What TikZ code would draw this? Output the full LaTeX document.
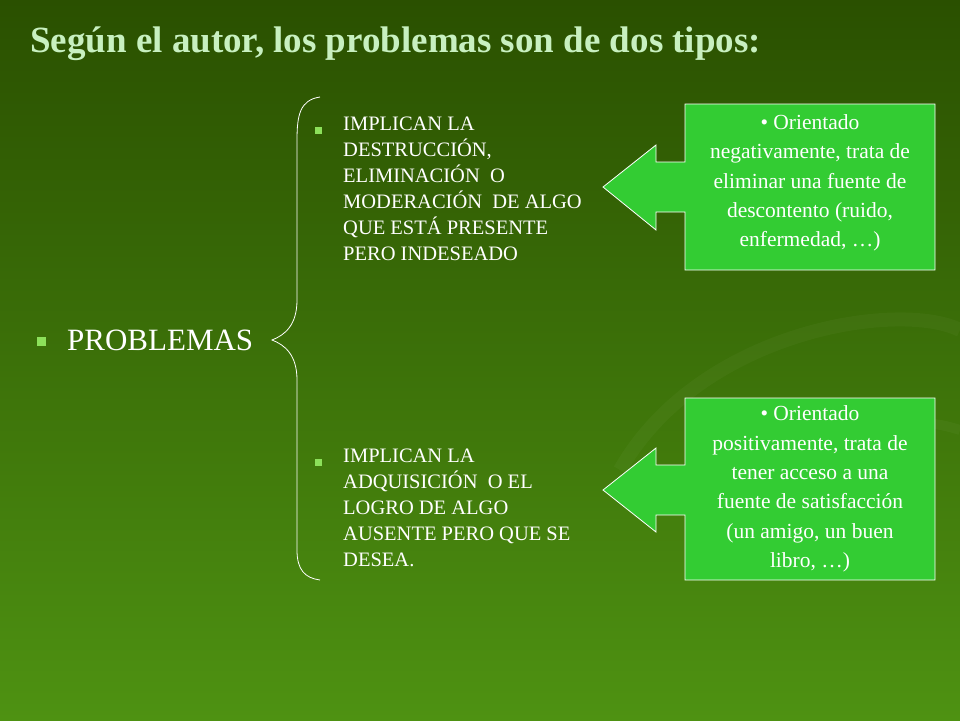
\documentclass[tikz,border=0pt]{standalone}
\usepackage{fontspec}
\setmainfont{Liberation Serif}
\begin{document}
\begin{tikzpicture}[x=1pt,y=-1pt,
  bul/.style={fill=bulgreen,minimum size=7pt,inner sep=0pt},
  call/.style={fill=callgreen,draw=white,line width=0.8pt},
  ltext/.style={anchor=north west,align=left,text=white,font=\fontsize{20.5}{26}\selectfont,inner sep=0pt},
  ctext/.style={align=center,text=white,font=\fontsize{21.5}{29.3}\selectfont,inner sep=0pt}]
\definecolor{bulgreen}{HTML}{8CE05A}
\definecolor{callgreen}{HTML}{33CC33}
\definecolor{titlegreen}{HTML}{C8F0C0}
\shade[top color={rgb,255:red,42;green,80;blue,0},bottom color={rgb,255:red,78;green,146;blue,18}] (0,0) rectangle (960,720);
\useasboundingbox (0,0) rectangle (960,720);
% faint swirl
\draw[white,opacity=0.03,line width=14pt] (620,470) .. controls (700,330) and (900,300) .. (960,330);
\draw[white,opacity=0.03,line width=10pt] (700,520) .. controls (780,420) and (900,410) .. (960,430);
\node[anchor=west,font=\bfseries\fontsize{37}{40}\selectfont,text=titlegreen,inner sep=0pt] (title) at (30,44) {Según el autor, los problemas son de dos tipos:};
% PROBLEMAS
\node[bul,minimum size=9pt] (b0) at (41,341) {};
\node[anchor=west,text=white,font=\fontsize{31}{34}\selectfont,inner sep=0pt] (prob) at (67,340) {PROBLEMAS};
% brace
\draw[white,line width=0.8pt] (320,97) .. controls (300,100) and (297,115) .. (297,140) -- (297,300) .. controls (297,325) and (285,335) .. (272,340) .. controls (285,345) and (297,355) .. (297,380) -- (297,550) .. controls (297,570) and (305,578) .. (320,580);
% lists
\node[bul] (b1) at (318,130) {};
\node[ltext] (t1) at (343,117) {IMPLICAN LA\\DESTRUCCIÓN,\\ELIMINACIÓN\ \ O\\MODERACIÓN\ \ DE ALGO\\QUE ESTÁ PRESENTE\\PERO INDESEADO};
\node[bul] (b2) at (318,462) {};
\node[ltext] (t2) at (343,449) {IMPLICAN LA\\ADQUISICIÓN\ \ O EL\\LOGRO DE ALGO\\AUSENTE PERO QUE SE\\DESEA.};
% callouts
\draw[call] (685,104) -- (935,104) -- (935,270) -- (685,270) -- (685,212) -- (656,212) -- (656,230) -- (603,187) -- (656,145) -- (656,162) -- (685,162) -- cycle;
\node[ctext] (c1) at (810,183) {• Orientado\\negativamente, trata de\\eliminar una fuente de\\descontento (ruido,\\enfermedad, …)};
\draw[call] (685,398) -- (935,398) -- (935,580) -- (685,580) -- (685,515) -- (656,515) -- (656,532) -- (603,490) -- (656,448) -- (656,465) -- (685,465) -- cycle;
\node[ctext] (c2) at (810,489) {• Orientado\\positivamente, trata de\\tener acceso a una\\fuente de satisfacción\\(un amigo, un buen\\libro, …)};
\end{tikzpicture}
\end{document}
